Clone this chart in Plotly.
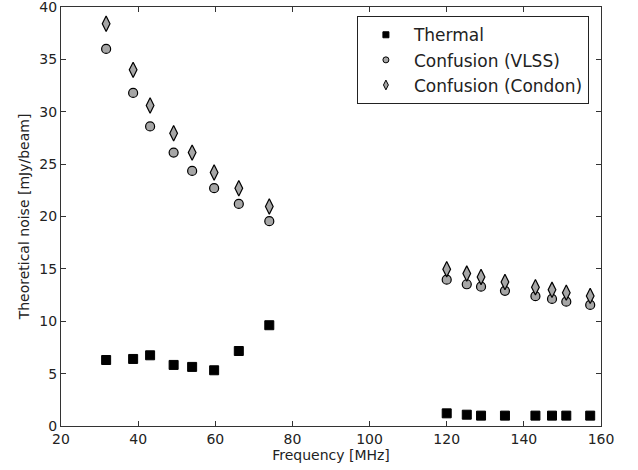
import plotly.graph_objects as go

freq = [31.7, 38.7, 43.1, 49.2, 54.0, 59.7, 66.1, 74.0,
        120.0, 125.2, 128.9, 135.1, 143.0, 147.3, 151.0, 157.2]
thermal = [6.3, 6.4, 6.75, 5.83, 5.64, 5.32, 7.16, 9.62,
           1.21, 1.08, 0.99, 0.99, 0.99, 0.99, 0.99, 0.99]
vlss = [36.0, 31.8, 28.6, 26.1, 24.35, 22.7, 21.2, 19.55,
        13.97, 13.53, 13.3, 12.9, 12.39, 12.13, 11.87, 11.56]
condon = [38.4, 34.0, 30.6, 27.95, 26.1, 24.2, 22.7, 20.95,
          14.97, 14.55, 14.23, 13.75, 13.25, 13.0, 12.73, 12.42]
names = ["Thermal", "Confusion (VLSS)", "Confusion (Condon)"]
x_ticks = [20, 40, 60, 80, 100, 120, 140, 160]
y_ticks = [0, 5, 10, 15, 20, 25, 30, 35, 40]

styles = [
    dict(symbol="square", color="black", lw=1, size=9, lsize=6),
    dict(symbol="circle", color="#a6a6a6", lw=1.2, size=9, lsize=6),
    dict(symbol="diamond-tall", color="#a6a6a6", lw=1.2, size=11, lsize=7),
]

fig = go.Figure()
for name, ys, st in zip(names, [thermal, vlss, condon], styles):
    fig.add_trace(go.Scatter(x=freq, y=ys, mode="markers", name=name, showlegend=False,
                             cliponaxis=False,
                             marker=dict(symbol=st["symbol"], size=st["size"], color=st["color"],
                                         line=dict(color="black", width=st["lw"]))))
for name, st in zip(names, styles):
    fig.add_trace(go.Scatter(x=[None], y=[None], mode="markers", name=name, showlegend=True,
                             marker=dict(symbol=st["symbol"], size=st["lsize"], color=st["color"],
                                         line=dict(color="black", width=1))))

font = dict(family="DejaVu Sans", size=14, color="#222222")
axis_common = dict(showgrid=False, zeroline=False, showline=True, linecolor="#333333",
                   linewidth=1.3, mirror="ticks", ticks="inside", ticklen=5,
                   tickcolor="#333333", tickfont=font, automargin=False,
                   ticklabeloverflow="allow")
fig.update_xaxes(range=[20, 160], tickmode="array", tickvals=x_ticks,
                 ticktext=[str(v) for v in x_ticks],
                 title=dict(text="Frequency [MHz]", font=font, standoff=4),
                 **axis_common)
fig.update_yaxes(range=[0, 40], tickmode="array", tickvals=y_ticks,
                 ticktext=[str(v) for v in y_ticks],
                 title=dict(text="Theoretical noise [mJy/beam]", font=font, standoff=6),
                 **axis_common)
fig.update_layout(
    width=638, height=470,
    margin=dict(l=61, r=37, t=7, b=44),
    plot_bgcolor="white", paper_bgcolor="white",
    legend=dict(x=0.548, y=0.978, xanchor="left", yanchor="top",
                bordercolor="#222222", borderwidth=1, bgcolor="white",
                font=dict(family="DejaVu Sans", size=17, color="#222222"),
                itemwidth=46, tracegroupgap=0),
    showlegend=True,
)
fig.write_html("out.html", post_script="document.body.style.margin='0';",
               config={"displayModeBar": False})
